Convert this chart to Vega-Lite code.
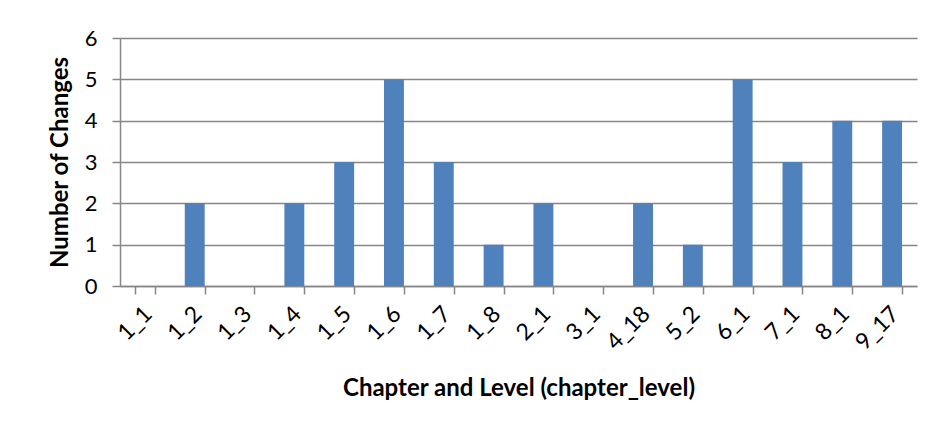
{
  "$schema": "https://vega.github.io/schema/vega-lite/v6.json",
  "autosize": {"type": "none"},
  "width": 797,
  "height": 248,
  "padding": {"left": 120, "top": 38, "right": 18, "bottom": 149},
  "background": "white",
  "data": {
    "values": [
      {"level": "1_1", "changes": 0},
      {"level": "1_2", "changes": 2},
      {"level": "1_3", "changes": 0},
      {"level": "1_4", "changes": 2},
      {"level": "1_5", "changes": 3},
      {"level": "1_6", "changes": 5},
      {"level": "1_7", "changes": 3},
      {"level": "1_8", "changes": 1},
      {"level": "2_1", "changes": 2},
      {"level": "3_1", "changes": 0},
      {"level": "4_18", "changes": 2},
      {"level": "5_2", "changes": 1},
      {"level": "6_1", "changes": 5},
      {"level": "7_1", "changes": 3},
      {"level": "8_1", "changes": 4},
      {"level": "9_17", "changes": 4}
    ]
  },
  "mark": {"type": "bar", "color": "#4F81BD"},
  "encoding": {
    "x": {
      "field": "level",
      "type": "nominal",
      "sort": null,
      "scale": {"paddingInner": 0.6, "paddingOuter": 0.3},
      "axis": {
        "title": "Chapter and Level (chapter_level)",
        "titleFont": "Lato",
        "titleFontSize": 24,
        "titleFontWeight": "bold",
        "titleColor": "black",
        "titleBaseline": "middle",
        "titleY": 102,
        "labelAngle": -45,
        "labelAlign": "right",
        "labelBaseline": "middle",
        "labelFont": "Lato",
        "labelFontSize": 23,
        "labelColor": "black",
        "labelPadding": 16,
        "labelOffset": 3,
        "bandPosition": 0,
        "tickBand": "extent",
        "ticks": true,
        "tickSize": 8,
        "tickColor": "#868686",
        "tickWidth": 1.5,
        "domainColor": "#868686",
        "domainWidth": 1.5,
        "grid": false
      }
    },
    "y": {
      "field": "changes",
      "type": "quantitative",
      "scale": {"domain": [0, 6]},
      "axis": {
        "title": "Number of Changes",
        "titleFont": "Lato",
        "titleFontSize": 24,
        "titleFontWeight": "bold",
        "titleColor": "black",
        "titleBaseline": "middle",
        "titleX": -60,
        "values": [0, 1, 2, 3, 4, 5, 6],
        "labelFont": "Lato",
        "labelFontSize": 22,
        "labelColor": "black",
        "labelPadding": 15,
        "tickSize": 8,
        "tickColor": "#868686",
        "tickWidth": 1.5,
        "domainColor": "#868686",
        "domainWidth": 1.5,
        "gridColor": "#868686",
        "gridWidth": 1.5
      }
    }
  },
  "config": {"view": {"stroke": null}}
}
